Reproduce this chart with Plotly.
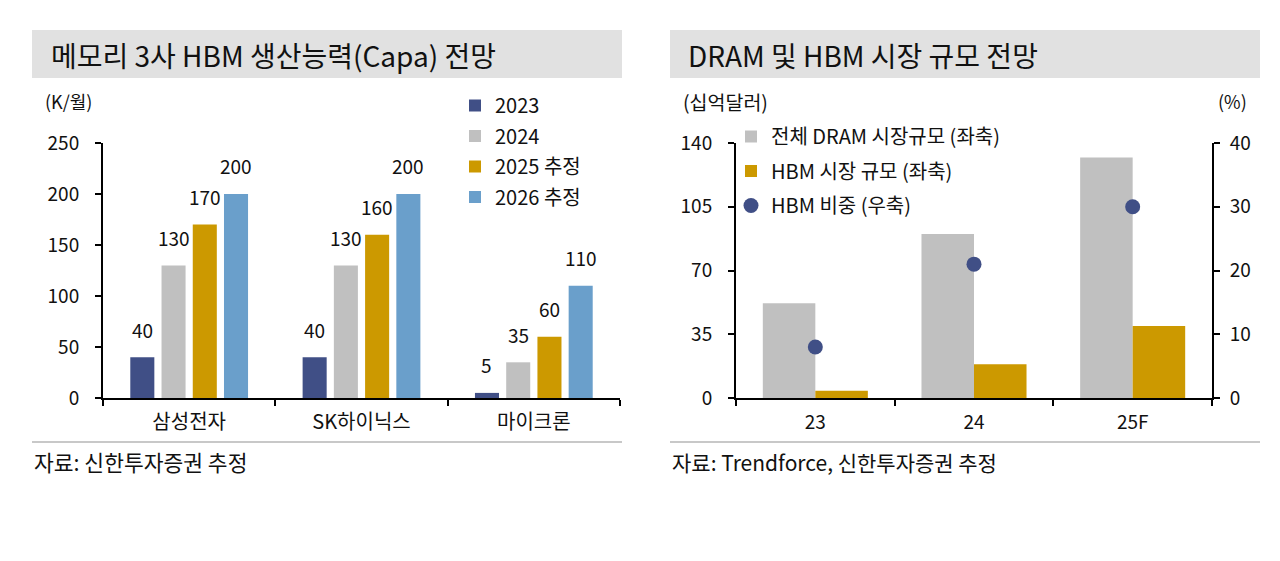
import plotly.graph_objects as go

# 왼쪽 차트: 메모리 3사 HBM 생산능력 (K/월)
companies = ["삼성전자", "SK하이닉스", "마이크론"]
capa_names = ["2023", "2024", "2025 추정", "2026 추정"]
capa_2023 = [40, 40, 5]
capa_2024 = [130, 130, 35]
capa_2025 = [170, 160, 60]
capa_2026 = [200, 200, 110]

# 오른쪽 차트: DRAM 및 HBM 시장 규모 (십억달러 / %)
periods = ["23", "24", "25F"]
dram_market = [52, 90, 132]
hbm_market = [4, 18.5, 39.5]
hbm_share = [8, 21, 30]

W, H = 1280, 561
PAGE_PAD = 8  # default body margin of the html page
FONT = "Noto Sans CJK KR"
NAVY = "#404F86"
GRAY = "#C0C0C0"
GOLD = "#CC9900"
BLUE = "#6A9FCB"
BARGAP = 0.275
BARGROUPGAP = 0.23


def px_x(p):
    return (p - PAGE_PAD) / W


def px_y(p):
    return 1 - (p - PAGE_PAD) / H


fig = go.Figure()

# --- left: grouped bars
capa_series = [capa_2023, capa_2024, capa_2025, capa_2026]
capa_colors = [NAVY, GRAY, GOLD, BLUE]
for i, (name, vals, col) in enumerate(zip(capa_names, capa_series, capa_colors)):
    fig.add_trace(go.Bar(
        x=companies, y=vals, name=name, marker_color=col, marker_line_width=0,
        xaxis="x", yaxis="y", legend="legend", legendgroup=name,
    ))

# value labels sit well above each bar, as in the original
slot = (1 - BARGAP) / len(capa_series)
annotations = []
for i, vals in enumerate(capa_series):
    for j, v in enumerate(vals):
        annotations.append(dict(
            x=j + (i - (len(capa_series) - 1) / 2) * slot, y=v, xref="x", yref="y",
            text=str(v), showarrow=False, yanchor="middle", yshift=28,
            font=dict(size=19, color="#111111"),
        ))

# --- right: DRAM vs HBM bars + HBM share dots
fig.add_trace(go.Bar(
    x=periods, y=dram_market, name="전체 DRAM 시장규모 (좌축)", marker_color=GRAY,
    marker_line_width=0, width=0.331, offset=-0.331,
    xaxis="x2", yaxis="y2", legend="legend2", legendgroup="dram",
))
fig.add_trace(go.Bar(
    x=periods, y=hbm_market, name="HBM 시장 규모 (좌축)", marker_color=GOLD,
    marker_line_width=0, width=0.331, offset=0,
    xaxis="x2", yaxis="y2", legend="legend2", legendgroup="hbm",
))
fig.add_trace(go.Scatter(
    x=periods, y=hbm_share, name="HBM 비중 (우축)", mode="markers",
    marker=dict(color=NAVY, size=15),
    xaxis="x2", yaxis="y3", legend="legend2", legendgroup="share",
))

axis_common = dict(
    showline=True, linecolor="black", linewidth=2, showgrid=False, zeroline=False,
    ticks="outside", ticklen=6, tickwidth=2, tickcolor="black", automargin=False,
    tickfont=dict(size=19, color="#111111"), fixedrange=True,
)
y_dom = [px_y(398), px_y(143)]

# title bars, separators
shapes = []
for x0, x1 in [(32, 622), (670, 1260)]:
    shapes.append(dict(type="rect", xref="paper", yref="paper",
                       x0=px_x(x0), x1=px_x(x1), y0=px_y(78), y1=px_y(30),
                       fillcolor="#E1E1E1", line_width=0, layer="below"))
    shapes.append(dict(type="line", xref="paper", yref="paper",
                       x0=px_x(x0), x1=px_x(x1), y0=px_y(442), y1=px_y(442),
                       line=dict(color="#C8C8C8", width=2)))

texts = [
    ("메모리 3사 HBM 생산능력(Capa) 전망", 49, 55, 28, "left"),
    ("DRAM 및 HBM 시장 규모 전망", 686, 55, 28, "left"),
    ("(K/월)", 43, 101, 18, "left"),
    ("(십억달러)", 681, 101, 19.5, "left"),
    ("(%)", 1249, 101, 18, "right"),
    ("자료: 신한투자증권 추정", 32, 461, 21.5, "left"),
    ("자료: Trendforce, 신한투자증권 추정", 670, 462, 21, "left"),
]
for t, x, y, s, anchor in texts:
    annotations.append(dict(
        text=t, x=px_x(x), y=px_y(y), xref="paper", yref="paper",
        xanchor=anchor, yanchor="middle", showarrow=False,
        font=dict(size=s, color="#111111"),
    ))

fig.update_layout(
    width=W, height=H, autosize=False,
    margin=dict(l=0, r=0, t=0, b=0, pad=0, autoexpand=False),
    paper_bgcolor="white", plot_bgcolor="white",
    font=dict(family=FONT, color="#111111"),
    barmode="group", bargap=BARGAP, bargroupgap=BARGROUPGAP,
    xaxis=dict(domain=[px_x(103), px_x(620)], anchor="y", tickson="boundaries",
               ticklabelstandoff=5, **{**axis_common, "tickfont": dict(size=20, color="#111111")}),
    yaxis=dict(domain=y_dom, anchor="x", range=[0, 250], dtick=50,
               ticklabelstandoff=12, **axis_common),
    xaxis2=dict(domain=[px_x(736), px_x(1212)], anchor="y2", tickson="boundaries",
                ticklabelstandoff=6, **axis_common),
    yaxis2=dict(domain=y_dom, anchor="x2", range=[0, 140], dtick=35,
                ticklabelstandoff=12, **axis_common),
    yaxis3=dict(overlaying="y2", anchor="x2", side="right", range=[0, 40], dtick=10,
                ticklabelstandoff=6, **axis_common),
    legend=dict(x=px_x(455), y=px_y(86), xanchor="left", yanchor="top",
                bgcolor="rgba(0,0,0,0)", font=dict(size=20, color="#111111"),
                traceorder="grouped", tracegroupgap=1.5),
    legend2=dict(x=px_x(731), y=px_y(117), xanchor="left", yanchor="top",
                 bgcolor="rgba(0,0,0,0)", font=dict(size=20, color="#111111"),
                 traceorder="grouped", tracegroupgap=5.5),
    shapes=shapes,
    annotations=annotations,
)

fig.write_html("out.html")
